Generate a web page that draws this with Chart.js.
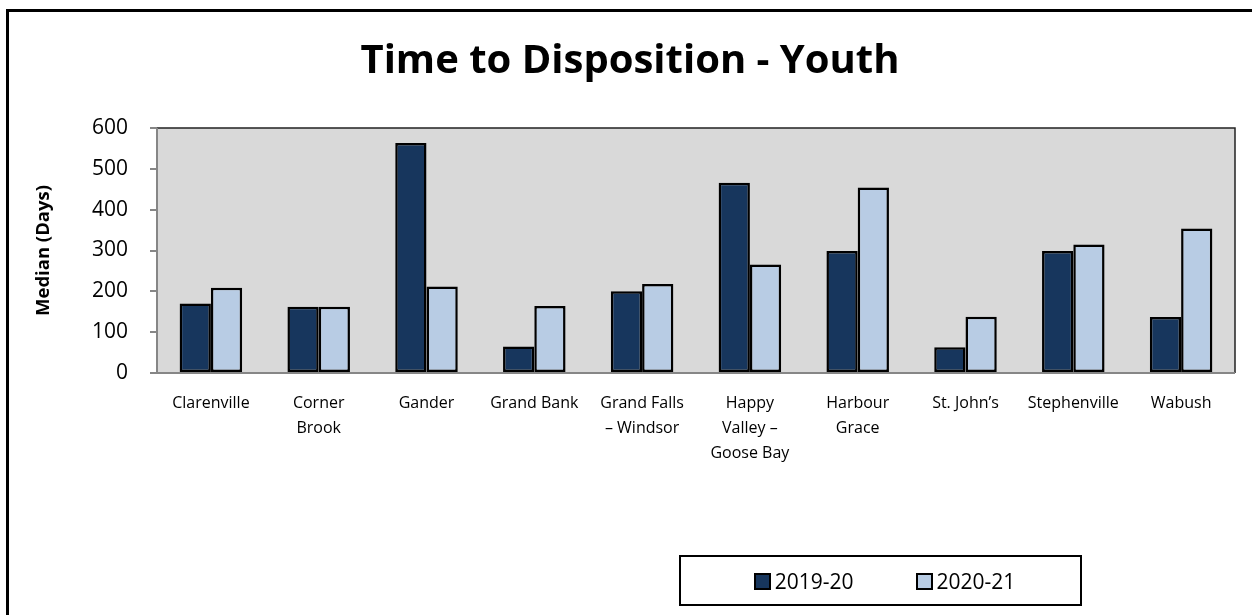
<!DOCTYPE html>
<html>
<head>
<meta charset="utf-8">
<script src="https://cdn.jsdelivr.net/npm/chart.js@4/dist/chart.umd.min.js"></script>
<style>
  html, body { margin: 0; padding: 0; background: #fff; overflow: hidden; }
  #wrap { position: relative; width: 1252px; height: 615px; }
  #frame { position: absolute; left: 6px; top: 9px; width: 1300px; height: 700px;
    border-left: 3px solid #000; border-top: 3px solid #000; }
  #legend { position: absolute; left: 679px; top: 555px; width: 403px; height: 51px;
    border: 2px solid #000; box-sizing: border-box; display: flex; align-items: center;
    justify-content: center; gap: 62px; font-family: 'Open Sans', sans-serif; font-size: 21px; color: #000;
    padding-left: 8px; }
  #legend span.sw { display: inline-block; width: 13px; height: 13px; border: 2px solid #000;
    margin-right: 4px; vertical-align: -1px; }
</style>
</head>
<body>
<div id="wrap">
  <canvas id="myChart" width="1252" height="615"></canvas>
  <div id="frame"></div>
  <div id="legend"></div>
</div>
<script>
const categories = [
  'Clarenville',
  ['Corner', 'Brook'],
  'Gander',
  'Grand Bank',
  ['Grand Falls', '– Windsor'],
  ['Happy', 'Valley –', 'Goose Bay'],
  ['Harbour', 'Grace'],
  'St. John’s',
  'Stephenville',
  'Wabush',
];
const series2019 = [170, 162, 563, 65, 200, 466, 299, 63, 299, 137];
const series2020 = [209, 162, 212, 164, 218, 266, 454, 138, 315, 354];
const seriesNames = ['2019-20', '2020-21'];
const seriesColors = ['#17365D', '#B8CCE4'];
const yTicks = [0, 100, 200, 300, 400, 500, 600];

const plotBg = {
  id: 'plotBg',
  beforeDatasetsDraw(chart) {
    const { ctx, chartArea: a } = chart;
    ctx.save();
    ctx.fillStyle = '#D9D9D9';
    ctx.fillRect(a.left, a.top, a.right - a.left, a.bottom - a.top);
    ctx.lineWidth = 1.5;
    ctx.strokeStyle = '#222';
    ctx.beginPath();
    ctx.moveTo(a.left, a.top);
    ctx.lineTo(a.right, a.top);
    ctx.lineTo(a.right, a.bottom);
    ctx.stroke();
    ctx.strokeStyle = '#868686';
    ctx.lineWidth = 2;
    ctx.beginPath();
    ctx.moveTo(a.left, a.top);
    ctx.lineTo(a.left, a.bottom);
    ctx.lineTo(a.right, a.bottom);
    ctx.stroke();
    ctx.restore();
  },
};

const ctx = document.getElementById('myChart').getContext('2d');
const myChart = new Chart(ctx, {
  type: 'bar',
  data: {
    labels: categories,
    datasets: [
      { label: seriesNames[0], data: series2019, backgroundColor: seriesColors[0],
        borderColor: '#000', borderWidth: 2.5, borderSkipped: false },
      { label: seriesNames[1], data: series2020, backgroundColor: seriesColors[1],
        borderColor: '#000', borderWidth: 2.5, borderSkipped: false },
    ],
  },
  options: {
    responsive: false,
    animation: false,
    devicePixelRatio: 1,
    layout: { padding: { left: 25, right: 17, top: 0, bottom: 0 } },
    datasets: { bar: { barPercentage: 1, categoryPercentage: 0.58 } },
    plugins: {
      legend: { display: false },
      tooltip: { enabled: false },
      title: {
        display: true,
        text: 'Time to Disposition - Youth',
        color: '#000',
        font: { family: "'Open Sans', sans-serif", size: 40, weight: 'bold' },
        padding: { top: 38, bottom: 42 },
      },
    },
    scales: {
      x: {
        grid: { display: false },
        border: { display: false },
        ticks: {
          color: '#000',
          maxRotation: 0,
          autoSkip: false,
          padding: 10,
          font: { family: "'Open Sans', sans-serif", size: 16, lineHeight: 1.56 },
        },
        afterFit(scale) { scale.height = 242; },
      },
      y: {
        min: 0,
        max: 600,
        afterBuildTicks(scale) { scale.ticks = yTicks.map(v => ({ value: v })); },
        grid: { drawOnChartArea: false, tickLength: 7, color: '#868686', lineWidth: 2 },
        border: { display: false },
        ticks: {
          color: '#000',
          padding: 22,
          font: { family: "'Open Sans', sans-serif", size: 21 },
        },
        title: {
          display: true,
          text: 'Median (Days)',
          color: '#000',
          font: { family: "'Open Sans', sans-serif", size: 18.5, weight: 'bold' },
          padding: { top: 8, bottom: 0 },
        },
        afterFit(scale) { scale.width = 132; },
      },
    },
  },
  plugins: [plotBg],
});

const legendEl = document.getElementById('legend');
myChart.data.datasets.forEach((ds) => {
  const item = document.createElement('div');
  item.innerHTML = '<span class="sw" style="background:' + ds.backgroundColor + '"></span>' + ds.label;
  legendEl.append(item);
});
</script>
</body>
</html>
